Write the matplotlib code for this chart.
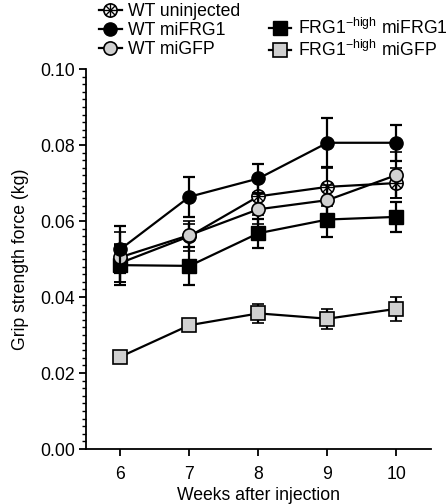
import matplotlib
matplotlib.use('Agg')
import matplotlib.pyplot as plt
from matplotlib.lines import Line2D
from matplotlib.ticker import MultipleLocator
from matplotlib.legend_handler import HandlerTuple

plt.rcParams['font.family'] = ['Liberation Sans', 'DejaVu Sans']

weeks = [6, 7, 8, 9, 10]

wt_uninj = [0.0490, 0.0560, 0.0665, 0.0690, 0.0700]
wt_uninj_err = [0.0050, 0.0040, 0.0050, 0.0050, 0.0040]

wt_mifrg1 = [0.0526, 0.0664, 0.0712, 0.0806, 0.0806]
wt_mifrg1_err = [0.0062, 0.0053, 0.0038, 0.0065, 0.0047]

wt_migfp = [0.0505, 0.0563, 0.0631, 0.0655, 0.0721]
wt_migfp_err = [0.0065, 0.0030, 0.0040, 0.0040, 0.0060]

frg_mifrg1 = [0.0484, 0.0482, 0.0568, 0.0604, 0.0611]
frg_mifrg1_err = [0.0052, 0.0050, 0.0038, 0.0047, 0.0040]

frg_migfp = [0.0243, 0.0326, 0.0357, 0.0343, 0.0369]
frg_migfp_err = [0.0010, 0.0015, 0.0026, 0.0026, 0.0031]

gray = '#d0d0d0'
ms = 9.5
lw = 1.6
fs = 12.7
eb = dict(ecolor='black', elinewidth=lw, capsize=4.5, capthick=lw)

fig = plt.figure(figsize=(4.47, 5.04), dpi=100)
ax = fig.add_axes([0.1924, 0.109, 0.7716, 0.754])

# FRG1-high miGFP
ax.errorbar(weeks, frg_migfp, yerr=frg_migfp_err, color='black', lw=lw,
            marker='s', ms=ms, mfc=gray, mec='black', mew=1.2, zorder=2, **eb)
# WT uninjected (crossed circle)
ax.errorbar(weeks, wt_uninj, yerr=wt_uninj_err, color='black', lw=lw,
            marker='o', ms=ms, mfc='white', mec='black', mew=1.2, zorder=3, **eb)
ax.plot(weeks, wt_uninj, ls='none', marker='+', ms=ms, color='black', mew=1.0, zorder=3.1)
ax.plot(weeks, wt_uninj, ls='none', marker='x', ms=ms * 0.7, color='black', mew=1.0, zorder=3.1)
# FRG1-high miFRG1
ax.errorbar(weeks, frg_mifrg1, yerr=frg_mifrg1_err, color='black', lw=lw,
            marker='s', ms=ms, mfc='black', mec='black', zorder=4, **eb)
# WT miGFP
ax.errorbar(weeks, wt_migfp, yerr=wt_migfp_err, color='black', lw=lw,
            marker='o', ms=ms, mfc=gray, mec='black', mew=1.2, zorder=5, **eb)
# WT miFRG1
ax.errorbar(weeks, wt_mifrg1, yerr=wt_mifrg1_err, color='black', lw=lw,
            marker='o', ms=ms, mfc='black', mec='black', zorder=6, **eb)

ax.set_xlim(5.5, 10.5)
ax.set_ylim(0, 0.10)
ax.set_xticks(weeks)
ax.yaxis.set_major_locator(MultipleLocator(0.02))
ax.yaxis.set_minor_locator(MultipleLocator(0.002))
ax.yaxis.set_major_formatter(plt.FuncFormatter(lambda v, p: f'{v:.2f}'))
ax.spines['top'].set_visible(False)
ax.spines['right'].set_visible(False)
for s in ['left', 'bottom']:
    ax.spines[s].set_linewidth(1.3)
ax.tick_params(axis='both', which='major', direction='out', length=5, width=1.3,
               labelsize=fs, pad=3)
ax.tick_params(axis='y', which='minor', direction='out', length=3, width=1.0)
ax.tick_params(axis='x', which='major', pad=7)
ax.set_xlabel('Weeks after injection', fontsize=fs, labelpad=3)
ax.set_ylabel('Grip strength force (kg)', fontsize=fs, labelpad=8)

# legend: two separate columns
h_uninj = (Line2D([], [], color='black', lw=lw, marker='o', ms=ms, mfc='white', mec='black', mew=1.2),
           Line2D([], [], ls='none', marker='+', ms=ms, color='black', mew=1.0),
           Line2D([], [], ls='none', marker='x', ms=ms * 0.7, color='black', mew=1.0))
h_wfrg = Line2D([], [], color='black', lw=lw, marker='o', ms=ms, mfc='black', mec='black')
h_wgfp = Line2D([], [], color='black', lw=lw, marker='o', ms=ms, mfc=gray, mec='black', mew=1.2)
h_ffrg = Line2D([], [], color='black', lw=lw, marker='s', ms=ms, mfc='black', mec='black')
h_fgfp = Line2D([], [], color='black', lw=lw, marker='s', ms=ms, mfc=gray, mec='black', mew=1.2)

leg_opts = dict(loc='upper left', frameon=False, fontsize=fs, handlelength=1.3,
                handletextpad=0.35, labelspacing=0.12, borderaxespad=0)
fig.legend([h_uninj, h_wfrg, h_wgfp], ['WT uninjected', 'WT miFRG1', 'WT miGFP'],
           bbox_to_anchor=(0.205, 1.008),
           handler_map={tuple: HandlerTuple(ndivide=1, pad=0)}, **leg_opts)
fig.legend([h_ffrg, h_fgfp],
           [r'FRG1$^{\mathregular{-high}}$ miFRG1', r'FRG1$^{\mathregular{-high}}$ miGFP'],
           bbox_to_anchor=(0.585, 0.979), **leg_opts)

plt.savefig('out.png', dpi=100)
